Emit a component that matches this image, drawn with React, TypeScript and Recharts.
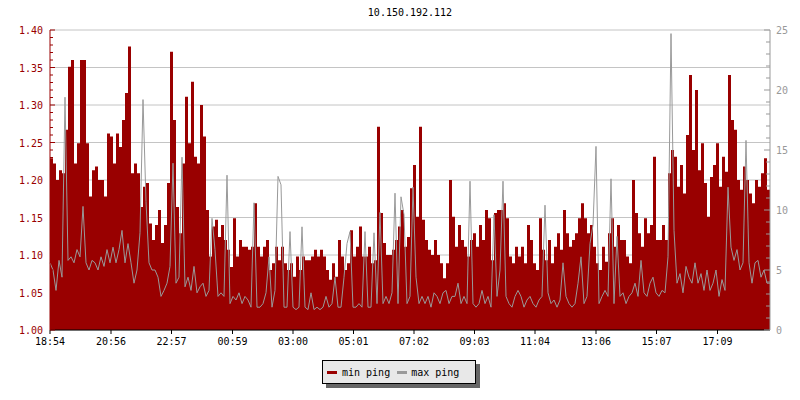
import React from "react";
import {
  ComposedChart,
  Area,
  Line,
  XAxis,
  YAxis,
  CartesianGrid,
} from "recharts";

const RED = "#990000";
const GRAY = "#999999";
const FONT = "'DejaVu Sans Mono', 'Liberation Mono', monospace";

// one sample every 6 minutes, starting at 18:54
const minPing = [
  1.229, 1.222, 1.2, 1.213, 1.209, 1.267, 1.351, 1.36, 1.222, 1.249, 1.36, 1.36, 1.249, 1.178, 1.213, 1.218, 1.2, 1.2, 1.178, 1.262,
  1.258, 1.222, 1.262, 1.244, 1.28, 1.316, 1.378, 1.209, 1.222, 1.209, 1.164, 1.191, 1.196, 1.142, 1.12,
  1.14, 1.16, 1.116, 1.14, 1.196, 1.371, 1.28, 1.164, 1.129, 1.222, 1.311, 1.249, 1.331, 1.231, 1.222, 1.3, 1.258, 1.16, 1.098, 1.138,
  1.147, 1.124, 1.14, 1.12, 1.107, 1.084, 1.149, 1.098, 1.12, 1.111, 1.111, 1.107, 1.111, 1.169, 1.111,
  1.098, 1.111, 1.12, 1.08, 1.089, 1.111, 1.093, 1.111, 1.089, 1.08, 1.089, 1.071, 1.098, 1.08, 1.098, 1.093, 1.093, 1.098, 1.107, 1.098,
  1.107, 1.098, 1.08, 1.067, 1.089, 1.071, 1.12, 1.098, 1.08, 1.089, 1.133, 1.098, 1.111, 1.138, 1.098,
  1.098, 1.111, 1.089, 1.093, 1.271, 1.156, 1.116, 1.1, 1.1, 1.107, 1.12, 1.138, 1.16, 1.111, 1.124, 1.189, 1.22, 1.151, 1.271, 1.147,
  1.12, 1.107, 1.1, 1.12, 1.1, 1.089, 1.069, 1.089, 1.2, 1.151, 1.111, 1.14, 1.12, 1.111, 1.098,
  1.12, 1.129, 1.111, 1.14, 1.12, 1.16, 1.149, 1.093, 1.156, 1.16, 1.16, 1.169, 1.149, 1.098, 1.089, 1.111, 1.098, 1.111, 1.089, 1.14,
  1.12, 1.089, 1.08, 1.149, 1.107, 1.093, 1.12, 1.089, 1.111, 1.129, 1.107, 1.16, 1.129, 1.111, 1.12,
  1.129, 1.149, 1.169, 1.149, 1.129, 1.14, 1.111, 1.089, 1.08, 1.111, 1.091, 1.129, 1.149, 1.111, 1.14, 1.12, 1.12, 1.098, 1.089, 1.2,
  1.156, 1.129, 1.111, 1.149, 1.129, 1.14, 1.231, 1.12, 1.12, 1.14, 1.12, 1.209, 1.24,
  1.231, 1.191, 1.22, 1.182, 1.26, 1.34, 1.24, 1.32, 1.213, 1.249, 1.196, 1.151, 1.204, 1.22, 1.249, 1.191, 1.231, 1.211, 1.34, 1.28,
  1.267, 1.2, 1.187, 1.218, 1.2, 1.182, 1.169, 1.2, 1.191, 1.209, 1.229, 1.187,
];

const maxPing = [
  5.6, 5.0, 3.3, 5.8, 4.4, 19.4, 5.8, 6.1, 5.6, 6.7, 6.1, 10.3, 5.6, 5.0, 5.8, 5.6, 5.0, 6.1, 5.3, 6.7,
  5.6, 6.9, 5.6, 6.7, 8.3, 5.6, 7.2, 5.6, 3.9, 5.0, 8.1, 19.2, 10.7, 5.6, 5.0,
  5.0, 4.4, 2.8, 3.3, 3.9, 5.3, 13.9, 3.9, 4.4, 14.4, 3.6, 4.4, 3.3, 5.3, 3.1, 3.6, 3.9, 2.8, 3.3, 9.3,
  6.7, 2.8, 3.1, 2.8, 12.9, 2.2, 2.8, 2.5, 3.1, 2.2, 2.8, 2.5, 1.9, 10.6, 1.9,
  1.9, 2.2, 3.1, 6.1, 1.9, 3.3, 12.8, 12.1, 1.9, 1.9, 8.2, 1.9, 1.7, 1.9, 8.6, 1.9, 1.7, 3.1, 1.7, 1.9,
  1.7, 1.9, 2.8, 1.9, 2.2, 4.4, 1.9, 1.9, 4.4, 7.2, 8.2, 1.9, 1.9, 2.2, 1.9,
  8.2, 1.9, 1.9, 8.1, 2.2, 9.8, 2.2, 2.8, 2.2, 3.1, 11.4, 2.2, 11.1, 9.6, 2.2, 2.8, 11.9, 4.4, 2.2, 2.8,
  2.2, 2.8, 1.9, 3.1, 2.8, 2.2, 3.1, 3.3, 2.2, 2.8, 2.8, 3.9, 2.2, 2.8, 2.2,
  12.4, 2.2, 1.9, 2.2, 3.3, 2.2, 2.8, 1.9, 9.6, 2.8, 5.0, 12.4, 2.8, 2.2, 1.9, 2.8, 3.3, 2.8, 1.9, 2.5,
  2.8, 2.2, 1.9, 2.5, 2.8, 10.4, 3.1, 2.2, 2.5, 1.9, 2.5, 5.6, 2.8, 2.2, 1.9,
  2.2, 3.9, 6.1, 2.2, 2.8, 7.2, 8.75, 15.3, 2.2, 2.8, 3.3, 2.8, 12.6, 2.2, 7.8, 2.8, 3.1, 2.2, 2.8, 3.1,
  3.9, 2.8, 5.8, 3.1, 2.8, 3.9, 4.4, 3.1, 2.8, 3.3, 3.1, 6.1, 24.7,
  8.3, 3.9, 4.7, 3.1, 5.3, 4.4, 3.9, 5.6, 3.9, 4.7, 3.3, 5.0, 3.3, 3.9, 5.0, 2.8, 4.2, 3.3, 11.9, 6.9,
  5.8, 6.7, 5.0, 5.6, 15.8, 5.6, 3.9, 5.6, 5.8, 4.4, 5.0, 3.9,
];

const timeLabels = ["18:54", "20:56", "22:57", "00:59", "03:00", "05:01", "07:02", "09:03", "11:04", "13:06", "15:07", "17:09"];
const timeTicks = [0, 122, 243, 365, 486, 607, 728, 849, 970, 1092, 1213, 1335];
const leftLabels = [1.0, 1.05, 1.1, 1.15, 1.2, 1.25, 1.3, 1.35, 1.4];
const rightLabels = [0, 5, 10, 15, 20, 25];

const STEP = 6;
const leftTicks = Array.from({ length: 41 }, (_, i) => Math.round((1 + i * 0.01) * 100) / 100);
const rightTicks = Array.from({ length: 26 }, (_, i) => i);

const data = minPing.map((v, i) => ({ t: i * STEP, min: v, max: maxPing[i] }));
// close the last step at the end of the range
data.push({ t: minPing.length * STEP, min: minPing[minPing.length - 1], max: maxPing[maxPing.length - 1] });

const LeftTick = ({ x, y, payload }: any) => {
  const major = Math.round(payload.value * 100) % 5 === 0;
  return (
    <g>
      <line x1={x} x2={x + (major ? 5 : 3)} y1={y} y2={y} stroke={RED} />
      {major && (
        <text x={x - 7} y={y + 4} textAnchor="end" fill={RED} fontSize={10} fontFamily={FONT}>
          {payload.value.toFixed(2)}
        </text>
      )}
    </g>
  );
};

const RightTick = ({ x, y, payload }: any) => {
  const major = rightLabels.includes(payload.value);
  return (
    <g>
      <line x1={x} x2={x - (major ? 6 : 4)} y1={y} y2={y} stroke={GRAY} />
      {major && (
        <text x={x + 6} y={y + 4} textAnchor="start" fill={GRAY} fontSize={10} fontFamily={FONT}>
          {payload.value}
        </text>
      )}
    </g>
  );
};

export default function App() {
  return (
    <div style={{ position: "absolute", left: 0, top: 0, width: 800, height: 400, background: "#fff" }}>
      <div
        style={{
          position: "absolute", left: 310, top: 7, width: 200, textAlign: "center",
          fontFamily: FONT, fontSize: 10, lineHeight: "12px", color: "#000",
        }}
      >
        10.150.192.112
      </div>
      <ComposedChart width={800} height={400} data={data} margin={{ top: 30, right: 0, bottom: 40, left: 0 }}>
        <CartesianGrid yAxisId="min" vertical={false} horizontalValues={leftLabels} stroke="#c4c4c4" />
        <XAxis
          dataKey="t"
          type="number"
          domain={[0, 1440]}
          ticks={timeTicks}
          interval={0}
          tickFormatter={(v: number) => timeLabels[timeTicks.indexOf(v)]}
          axisLine={{ stroke: "#000" }}
          tickLine={{ stroke: "#000" }}
          tickSize={4}
          tickMargin={4}
          tick={{ fill: "#000", fontSize: 10, fontFamily: FONT }}
          height={30}
        />
        <YAxis
          yAxisId="min"
          orientation="left"
          domain={[1, 1.4]}
          ticks={leftTicks}
          interval={0}
          width={50}
          tickSize={0}
          tickMargin={0}
          axisLine={{ stroke: RED }}
          tickLine={false}
          tick={(p: any) => <LeftTick {...p} />}
        />
        <YAxis
          yAxisId="max"
          orientation="right"
          domain={[0, 25]}
          ticks={rightTicks}
          interval={0}
          width={30}
          tickSize={0}
          tickMargin={0}
          axisLine={{ stroke: GRAY }}
          tickLine={false}
          tick={(p: any) => <RightTick {...p} />}
        />
        <Area
          yAxisId="min"
          type="stepAfter"
          dataKey="min"
          fill={RED}
          fillOpacity={1}
          stroke="none"
          baseValue={1}
          isAnimationActive={false}
        />
        <Line
          yAxisId="max"
          type="linear"
          dataKey="max"
          stroke={GRAY}
          strokeWidth={1}
          dot={false}
          isAnimationActive={false}
        />
      </ComposedChart>
      <div
        style={{
          position: "absolute", left: 322, top: 360, width: 152, height: 22,
          border: "1px solid #000", background: "#e8e8e8", boxShadow: "4px 4px 0 #666",
          display: "flex", alignItems: "center", fontFamily: FONT, fontSize: 10, color: "#000",
          boxSizing: "content-box",
        }}
      >
        <span style={{ display: "inline-block", width: 10, height: 3, background: RED, marginLeft: 4, marginRight: 5 }} />
        <span>min ping</span>
        <span style={{ display: "inline-block", width: 10, height: 3, background: GRAY, marginLeft: 7, marginRight: 4 }} />
        <span>max ping</span>
      </div>
    </div>
  );
}
